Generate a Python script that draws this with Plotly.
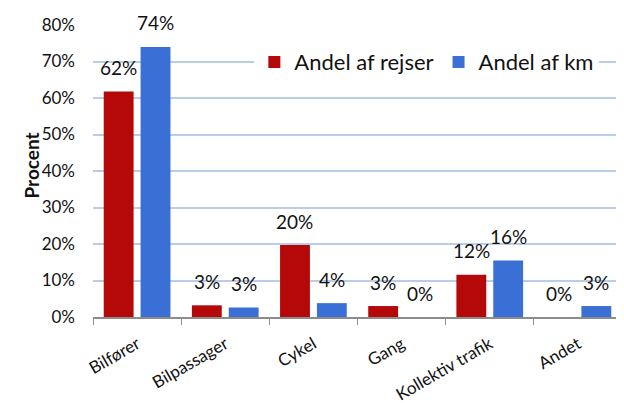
import plotly.graph_objects as go

categories = ["Bilfører", "Bilpassager", "Cykel", "Gang", "Kollektiv trafik", "Andet"]
andel_rejser = [0.618, 0.032, 0.197, 0.030, 0.116, 0.0]
andel_km = [0.740, 0.026, 0.038, 0.0, 0.155, 0.030]
labels_rejser = ["62%", "3%", "20%", "3%", "12%", "0%"]
labels_km = ["74%", "3%", "4%", "0%", "16%", "3%"]
y_ticks = [0, 0.1, 0.2, 0.3, 0.4, 0.5, 0.6, 0.7, 0.8]

FONT = "Lato, 'Noto Sans', sans-serif"
RED = "#B50808"
BLUE = "#3A6FD6"

fig = go.Figure()
fig.add_trace(go.Bar(
    name="Andel af rejser", x=categories, y=andel_rejser,
    marker=dict(color=RED, line=dict(width=0)),
))
fig.add_trace(go.Bar(
    name="Andel af km", x=categories, y=andel_km,
    marker=dict(color=BLUE, line=dict(width=0)),
))

offset = 0.21
for i, (v, t) in enumerate(zip(andel_rejser, labels_rejser)):
    fig.add_annotation(x=i - offset, y=v, text=t, showarrow=False,
                       yshift=24, font=dict(size=19, color="#111", family=FONT))
for i, (v, t) in enumerate(zip(andel_km, labels_km)):
    fig.add_annotation(x=i + offset, y=v, text=t, showarrow=False,
                       yshift=24, font=dict(size=19, color="#111", family=FONT))

fig.add_annotation(xref="paper", yref="paper", x=-0.142, y=0.52,
                   text="<b>Procent</b>", textangle=-90, showarrow=False,
                   font=dict(size=19, color="#111", family=FONT))

fig.update_layout(
    width=616, height=395,
    margin=dict(l=85, r=2, t=17, b=86, autoexpand=False),
    paper_bgcolor="white", plot_bgcolor="white",
    barmode="group", bargap=0.164, bargroupgap=0.19,
    font=dict(family=FONT, size=16, color="#111"),
    legend=dict(orientation="h", x=0.305, y=0.873, xanchor="left", yanchor="middle",
                bgcolor="white", font=dict(size=22, family=FONT),
                itemwidth=30, tracegroupgap=0),
    showlegend=True,
)
fig.update_xaxes(
    type="category", tickangle=-30, tickson="boundaries",
    ticks="outside", ticklen=6, tickcolor="#8c8c8c",
    showline=True, linecolor="#8c8c8c", linewidth=1.5,
    showgrid=False, tickfont=dict(size=17, family=FONT), ticklabelstandoff=9,
)
fig.update_yaxes(
    range=[0, 0.8], tickvals=y_ticks, tickformat=".0%",
    showgrid=True, gridcolor="#B9CDE8", gridwidth=1.5,
    showline=False, zeroline=False,
    tickfont=dict(size=17, family=FONT), ticks="", ticklabelstandoff=17,
)

fig.write_html("out.html")
